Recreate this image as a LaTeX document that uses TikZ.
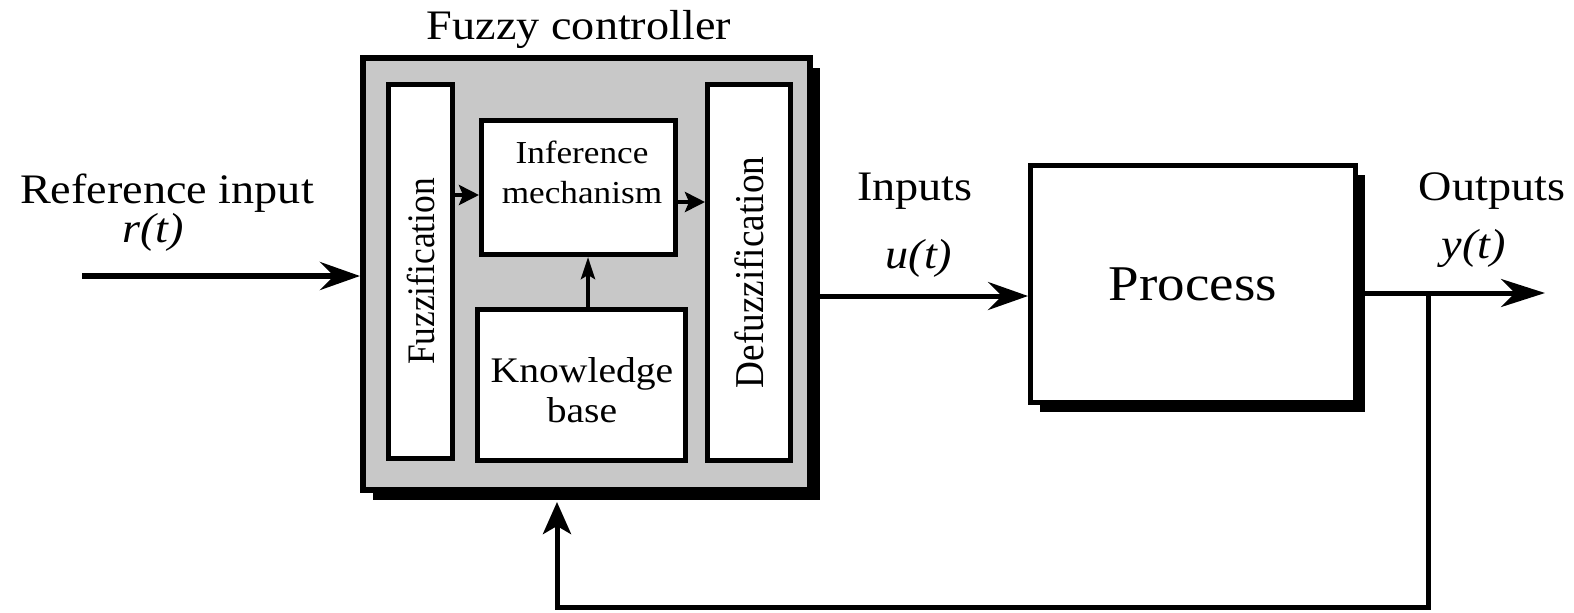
\documentclass[tikz,border=0pt]{standalone}
\usepackage{fontspec}
\setmainfont{Liberation Serif}[FakeStretch=1.1]
\newfontfamily\rotfont{Liberation Serif}
\usetikzlibrary{arrows.meta,shadows,calc}
\definecolor{ctrlgray}{RGB}{200,200,200}
\begin{document}
\begin{tikzpicture}[x=0.5pt,y=-0.5pt,
  blk/.style={draw, line width=2.5pt, fill=white, inner sep=0pt},
  lbl/.style={font=\fontsize{21}{25}\selectfont, inner sep=0pt, anchor=base},
  conn/.style={line width=2.5pt, line join=miter},
  bigtip/.style={-{Stealth[length=20pt,width=14pt,inset=7pt]}},
  smalltip/.style={-{Stealth[length=10pt,width=10pt,inset=2pt]}},
  iconn/.style={line width=2pt, smalltip}]
\useasboundingbox (0,0) rectangle (1574,612);

% Fuzzy controller
\node[draw, line width=3pt, fill=ctrlgray, inner sep=0pt,
      minimum width=223.5pt, minimum height=216pt,
      drop shadow={shadow xshift=5pt, shadow yshift=-5pt, opacity=1, fill=black}]
      (fc) at (586.5,274) {};
\node[lbl] (title) at (579,39) {Fuzzy controller};

\node[blk, minimum width=32pt, minimum height=187pt] (fz) at (420.5,271.5)
  {\rotatebox{90}{\scalebox{1}[1.1]{\rotfont\fontsize{17.7}{20}\selectfont Fuzzification}}};
\node[blk, minimum width=97pt, minimum height=67pt] (inf) at (578.5,187.5) {};
\node[anchor=base, inner sep=0pt, align=center, font=\fontsize{16}{20}\selectfont]
  (inftext) at (582,203) {Inference\\mechanism};
\node[blk, minimum width=104pt, minimum height=75.5pt] (kb) at (581.5,385) {};
\node[anchor=base, inner sep=0pt, align=center, font=\fontsize{18}{20}\selectfont]
  (kbtext) at (582,422) {Knowledge\\base};
\node[blk, minimum width=41.5pt, minimum height=188pt] (dfz) at (749,272.5)
  {\rotatebox{90}{\scalebox{1}[1.1]{\rotfont\fontsize{18.6}{20}\selectfont Defuzzification}}};

% inner arrows
\coordinate (a1) at (455,195);
\coordinate (a2) at (678,202);
\coordinate (a3) at (588,307);
\draw[iconn] (fz.east |- a1) -- (inf.west |- a1);
\draw[iconn] (inf.east |- a2) -- (dfz.west |- a2);
\draw[line width=2pt, -{Stealth[length=11pt,width=7pt,inset=2pt]}] (kb.north -| a3) -- (inf.south -| a3);

% Process
\node[blk, minimum width=162.5pt, minimum height=118.5pt,
      font=\fontsize{25}{30}\selectfont,
      drop shadow={shadow xshift=4.5pt, shadow yshift=-4.5pt, opacity=1, fill=black}]
      (pr) at (1193,284) {Process};

% labels
\node[lbl] (refin) at (167,203) {Reference input};
\node[lbl] (rt) at (153,242) {\textit{r(t)}};
\node[lbl] (inputs) at (915,200) {Inputs};
\node[lbl] (ut) at (919,268) {\textit{u(t)}};
\node[lbl] (outputs) at (1492,200) {Outputs};
\node[lbl] (yt) at (1474,258) {\textit{y(t)}};

% connectors
\coordinate (rin) at (82,276);
\draw[conn, line width=3pt, bigtip] (rin) -- (rin -| fc.west);
\coordinate (uo) at (813,296);
\draw[conn, bigtip] (uo) -- (uo -| pr.west);
\coordinate (yo) at (1545,293);
\draw[conn, -{Stealth[length=22pt,width=14pt,inset=7pt]}] (pr.east |- yo) -- (yo);
\coordinate (br) at (1428,293);
\coordinate (fb) at (557,607);
\coordinate (fbt) at ($(fb |- fc.south)+(0,9)$);
\draw[conn, -{Stealth[length=16pt,width=14pt,inset=4pt]}] (br) |- (fb) -- (fbt);
\end{tikzpicture}
\end{document}
